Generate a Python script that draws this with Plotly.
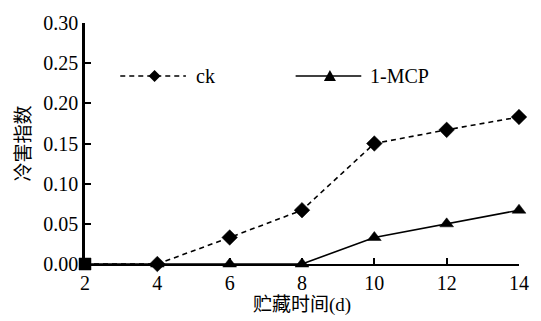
import plotly.graph_objects as go

# Storage days and chilling-injury index for the two treatments
days = [2, 4, 6, 8, 10, 12, 14]
ck = [0.0, 0.0, 0.033, 0.067, 0.150, 0.167, 0.183]
mcp = [0.0, 0.0, 0.0, 0.0, 0.033, 0.050, 0.067]
y_ticks = [0.00, 0.05, 0.10, 0.15, 0.20, 0.25, 0.30]

SERIF = "Liberation Serif"
CJK = "Liberation Serif, Noto Sans CJK SC"

fig = go.Figure()

fig.add_trace(go.Scatter(
    x=days, y=ck, mode="lines+markers", name="ck",
    line=dict(color="black", width=1.6, dash="5px,4px"),
    marker=dict(symbol=["square"] + ["diamond"] * (len(days) - 1),
                size=12, color="black", opacity=1,
                line=dict(color="black", width=0.5)),
    opacity=1, cliponaxis=False, showlegend=False,
))
fig.add_trace(go.Scatter(
    x=days, y=mcp, mode="lines+markers", name="1-MCP",
    line=dict(color="black", width=1.6),
    marker=dict(symbol=["square"] + ["triangle-up"] * (len(days) - 1),
                size=[11] + [12] * (len(days) - 1), color="black", opacity=1,
                line=dict(color="black", width=0.5)),
    opacity=1, cliponaxis=False, showlegend=False,
))

# Legend keys drawn in paper space
L, R, T, B = 85, 528, 20, 270
def px(x):
    return (x - L) / (R - L)
def py(y):
    return (B - y) / (B - T)

shapes = []
ann = []
ly = 75
# ck key
shapes.append(dict(type="line", xref="paper", yref="paper",
                   x0=px(121), x1=px(188), y0=py(ly), y1=py(ly),
                   line=dict(color="black", width=1.6, dash="5px,4px")))
shapes.append(dict(type="path", xref="paper", yref="paper",
                   xsizemode="pixel", ysizemode="pixel",
                   xanchor=px(156), yanchor=py(ly),
                   path="M0,6 L6,0 L0,-6 L-6,0 Z",
                   fillcolor="black", line=dict(color="black", width=0)))
ann.append(dict(x=px(196), y=py(ly), xref="paper", yref="paper",
                text="ck", showarrow=False, xanchor="left", yanchor="middle",
                font=dict(family=SERIF, size=20, color="black")))
# 1-MCP key
shapes.append(dict(type="line", xref="paper", yref="paper",
                   x0=px(300), x1=px(367), y0=py(ly), y1=py(ly),
                   line=dict(color="black", width=1.6)))
shapes.append(dict(type="path", xref="paper", yref="paper",
                   xsizemode="pixel", ysizemode="pixel",
                   xanchor=px(335), yanchor=py(ly),
                   path="M-6,-5 L6,-5 L0,6 Z",
                   fillcolor="black", line=dict(color="black", width=0)))
ann.append(dict(x=px(374), y=py(ly), xref="paper", yref="paper",
                text="1-MCP", showarrow=False, xanchor="left", yanchor="middle",
                font=dict(family=SERIF, size=20, color="black")))

fig.update_layout(
    width=541, height=321,
    margin=dict(l=L, r=541 - R, t=T, b=321 - B),
    paper_bgcolor="white", plot_bgcolor="white",
    shapes=shapes, annotations=ann,
    font=dict(family=SERIF, size=19, color="black"),
)
fig.update_xaxes(
    range=[2, 14], tickvals=days, ticktext=[str(d) for d in days],
    showline=True, linecolor="black", linewidth=2,
    ticks="inside", ticklen=6, tickwidth=1.5, tickcolor="black",
    showgrid=False, zeroline=False, layer="below traces",
    tickfont=dict(family=SERIF, size=20),
    title=dict(text="贮藏时间(d)", font=dict(family=CJK, size=19), standoff=2),
)
fig.update_yaxes(
    range=[0, 0.30], tickvals=y_ticks, ticktext=[f"{v:.2f}" for v in y_ticks],
    showline=True, linecolor="black", linewidth=2.5,
    ticks="inside", ticklen=6, tickwidth=1.5, tickcolor="black",
    showgrid=False, zeroline=False, layer="below traces",
    tickfont=dict(family=SERIF, size=20),
    title=dict(text="冷害指数", font=dict(family=CJK, size=19), standoff=8),
)

fig.write_html("out.html")
